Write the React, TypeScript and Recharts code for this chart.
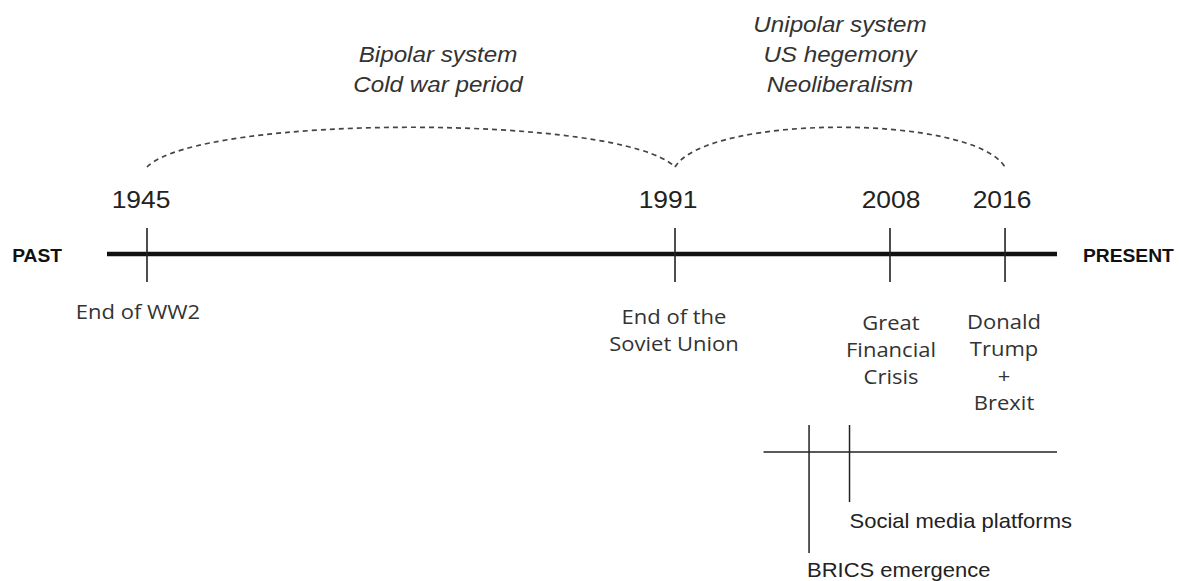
import React from "react";
import { ComposedChart, XAxis, YAxis, Line, Scatter, ReferenceArea } from "recharts";

const eventYears = [1945, 1991, 2008, 2016];
const eventLabels = [
  ["End of WW2"],
  ["End of the", "Soviet Union"],
  ["Great", "Financial", "Crisis"],
  ["Donald", "Trump", "+", "Brexit"],
];

const eraStarts = [1945, 1991];
const eraEnds = [1991, 2016];
const eraLabels = [
  ["Bipolar system", "Cold war period"],
  ["Unipolar system", "US hegemony", "Neoliberalism"],
];

const trendYears = [2001.6, 2004.8];
const trendLabels = ["BRICS emergence", "Social media platforms"];

const timelineStart = 1941.5;
const trendsStart = 1998;
const present = 2020;
const endLabels = ["PAST", "PRESENT"];

// rows of the drawing: the main timeline, and the later trends below it
const MAIN_ROW = 0;
const TREND_ROW = -1;

const events = eventYears.map((year, i) => ({ year, row: MAIN_ROW, lines: eventLabels[i] }));
const trends = trendYears.map((year, i) => ({ year, row: TREND_ROW, label: trendLabels[i] }));
const mainLine = [timelineStart, present].map((year, i) => ({ year, row: MAIN_ROW, label: endLabels[i] }));
const trendLine = [trendsStart, present].map((year) => ({ year, row: TREND_ROW }));

// the picture is not drawn to scale: each stretch of history runs at its own pace
const PACE: [number, number][] = [
  [1941.5, 0],
  [1945, 0.0421],
  [1991, 0.5979],
  [2008, 0.8242],
  [2016, 0.9453],
  [2020, 1],
];

function paceOf(v: number) {
  let i = 0;
  while (i < PACE.length - 2 && v > PACE[i + 1][0]) i++;
  const [y0, f0] = PACE[i];
  const [y1, f1] = PACE[i + 1];
  return f0 + ((v - y0) / (y1 - y0)) * (f1 - f0);
}

function timelineScale(): any {
  let domain: number[] = [PACE[0][0], PACE[PACE.length - 1][0]];
  let range: number[] = [0, 1];
  const scale: any = (v: number) => range[0] + paceOf(v) * (range[1] - range[0]);
  scale.domain = (d?: number[]) => {
    if (d === undefined) return domain;
    domain = d.slice();
    return scale;
  };
  scale.range = (r?: number[]) => {
    if (r === undefined) return range;
    range = r.slice();
    return scale;
  };
  scale.copy = () => timelineScale().domain(domain).range(range);
  scale.ticks = () => eventYears;
  scale.tickFormat = () => (v: number) => String(v);
  return scale;
}

const SANS = "'Liberation Sans', Arial, sans-serif";
const OPEN = "'Open Sans', sans-serif";
const STRETCH = 1.1;

const Stretch = ({ x, y, children }: any) => (
  <g transform={`translate(${x},${y}) scale(${STRETCH},1)`}>{children}</g>
);

const YEAR_DX = [-6, -7, 1, -3];
const DESC_DX = [-9, -1, 1, -1];
const DESC_TOP = [65, 70, 76, 75];

function EventMark({ cx, cy, payload }: any) {
  const i = eventYears.indexOf(payload.year);
  return (
    <g>
      <line x1={cx} x2={cx} y1={cy - 26} y2={cy + 28} stroke="#222" strokeWidth={1.6} />
      <Stretch x={cx + YEAR_DX[i]} y={cy - 46}>
        <text textAnchor="middle" fontFamily={SANS} fontSize={24} fill="#222">
          {payload.year}
        </text>
      </Stretch>
      {payload.lines.map((t: string, k: number) => (
        <Stretch key={k} x={cx + DESC_DX[i]} y={cy + DESC_TOP[i] + k * 27}>
          <text textAnchor="middle" fontFamily={OPEN} fontSize={20} fill="#333">
            {t}
          </text>
        </Stretch>
      ))}
    </g>
  );
}

const TREND_DROP = [101, 50];
const TREND_DX = [-2, 0];
const TREND_DY = [125, 76];

function TrendMark({ cx, cy, payload }: any) {
  const i = trendYears.indexOf(payload.year);
  return (
    <g>
      <line x1={cx} x2={cx} y1={cy - 27} y2={cy + TREND_DROP[i]} stroke="#222" strokeWidth={1.5} />
      <Stretch x={cx + TREND_DX[i]} y={cy + TREND_DY[i]}>
        <text textAnchor="start" fontFamily={SANS} fontSize={20} fill="#222">
          {payload.label}
        </text>
      </Stretch>
    </g>
  );
}

function EndLabel({ cx, cy, payload, index }: any) {
  const first = index === 0;
  return (
    <Stretch key={index} x={first ? cx - 45 : cx + 26} y={cy + 8}>
      <text
        textAnchor={first ? "end" : "start"}
        fontFamily={SANS}
        fontWeight="bold"
        fontSize={17.5}
        fill="#111"
      >
        {payload.label}
      </text>
    </Stretch>
  );
}

const ERA_DX = [27, 0];

function EraArc({ x, y, width, era }: any) {
  const base = y - 87;
  const ctrl = base - 53;
  const c = 0.1 * width;
  const d = `M${x},${base} C${x + c},${ctrl} ${x + width - c},${ctrl} ${x + width},${base}`;
  const lines: string[] = eraLabels[era];
  const mid = x + width / 2 + ERA_DX[era];
  return (
    <g>
      <path d={d} fill="none" stroke="#444" strokeWidth={1.7} strokeDasharray="5 4" />
      {lines.map((t, k) => (
        <Stretch key={k} x={mid} y={y - 162 - (lines.length - 1 - k) * 30}>
          <text textAnchor="middle" fontFamily={SANS} fontStyle="italic" fontSize={22} fill="#333">
            {t}
          </text>
        </Stretch>
      ))}
    </g>
  );
}

export default function App() {
  return (
    <div style={{ position: "absolute", left: 0, top: 0, width: 1180, height: 581, background: "#fff" }}>
      <ComposedChart width={1180} height={581} margin={{ top: 254, right: 123, bottom: 129, left: 107 }}>
        <XAxis
          dataKey="year"
          type="number"
          domain={[timelineStart, present]}
          scale={timelineScale()}
          hide
        />
        <YAxis dataKey="row" type="number" domain={[TREND_ROW, MAIN_ROW]} hide />
        {eraStarts.map((start, i) => (
          <ReferenceArea
            key={i}
            x1={start}
            x2={eraEnds[i]}
            y1={MAIN_ROW}
            y2={TREND_ROW}
            ifOverflow="visible"
            shape={(p: any) => <EraArc {...p} era={i} />}
          />
        ))}
        <Line
          data={mainLine}
          dataKey="row"
          stroke="#111"
          strokeWidth={4.5}
          dot={(p: any) => <EndLabel key={p.index} {...p} />}
          activeDot={false}
          isAnimationActive={false}
        />
        <Line
          data={trendLine}
          dataKey="row"
          stroke="#222"
          strokeWidth={1.5}
          dot={false}
          activeDot={false}
          isAnimationActive={false}
        />
        <Scatter data={events} dataKey="row" shape={(p: any) => <EventMark {...p} />} isAnimationActive={false} />
        <Scatter data={trends} dataKey="row" shape={(p: any) => <TrendMark {...p} />} isAnimationActive={false} />
      </ComposedChart>
    </div>
  );
}
